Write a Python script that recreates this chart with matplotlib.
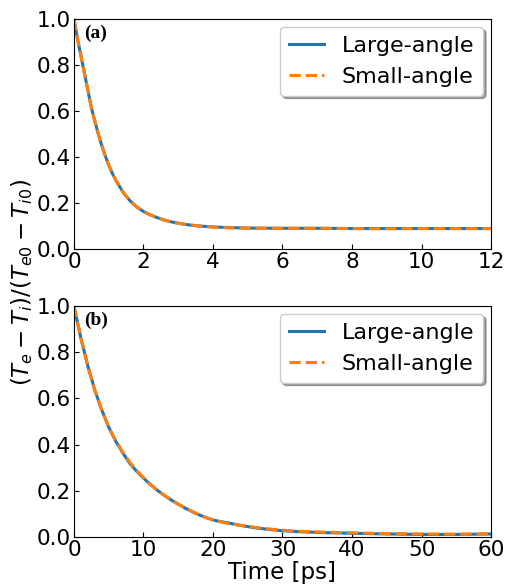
import matplotlib
matplotlib.use("Agg")
import matplotlib.pyplot as plt

# Panel (a)
t_a = [0, 0.1, 0.2, 0.3, 0.4, 0.5, 0.6, 0.7, 0.8, 0.9, 1.0, 1.1, 1.2, 1.3, 1.4, 1.5, 1.6, 1.7, 1.8, 1.9, 2.0,
       2.2, 2.4, 2.6, 2.8, 3.0, 3.3, 3.6, 4.0, 4.5, 5, 6, 7, 8, 9, 10, 11, 12]
large_a = [1.0, 0.915, 0.84, 0.765, 0.69, 0.615, 0.555, 0.50, 0.45, 0.405, 0.365, 0.33, 0.30, 0.275, 0.25, 0.23,
           0.212, 0.197, 0.184, 0.173, 0.163, 0.148, 0.136, 0.126, 0.118, 0.112, 0.105, 0.10, 0.096, 0.093, 0.091,
           0.09, 0.09, 0.089, 0.089, 0.089, 0.089, 0.089]
small_a = [1.0, 0.915, 0.84, 0.765, 0.69, 0.615, 0.555, 0.50, 0.45, 0.405, 0.365, 0.33, 0.30, 0.275, 0.25, 0.23,
           0.212, 0.197, 0.184, 0.173, 0.163, 0.148, 0.136, 0.126, 0.118, 0.112, 0.105, 0.10, 0.095, 0.092, 0.091,
           0.09, 0.09, 0.089, 0.088, 0.089, 0.089, 0.089]

# Panel (b)
t_b = [0, 1, 2, 3, 4, 5, 6, 7, 8, 9, 10, 11, 12, 13, 14, 15, 16, 17, 18, 19, 20, 21, 22, 23, 24, 25, 26, 28,
       30, 33, 36, 40, 45, 50, 55, 60]
large_b = [1.0, 0.86, 0.74, 0.635, 0.55, 0.475, 0.415, 0.365, 0.32, 0.285, 0.255, 0.227, 0.202, 0.18, 0.16,
           0.142, 0.125, 0.11, 0.096, 0.084, 0.074, 0.067, 0.062, 0.056, 0.05, 0.045, 0.04, 0.033,
           0.027, 0.022, 0.019, 0.016, 0.013, 0.011, 0.011, 0.013]
small_b = [1.0, 0.86, 0.74, 0.635, 0.55, 0.475, 0.417, 0.368, 0.325, 0.288, 0.257, 0.228, 0.202, 0.18, 0.16,
           0.142, 0.125, 0.11, 0.096, 0.084, 0.074, 0.066, 0.06, 0.055, 0.05, 0.046, 0.042, 0.035,
           0.029, 0.024, 0.021, 0.018, 0.015, 0.013, 0.012, 0.014]

xticks_a = [0, 2, 4, 6, 8, 10, 12]
xticks_b = [0, 10, 20, 30, 40, 50, 60]
yticks = [0.0, 0.2, 0.4, 0.6, 0.8, 1.0]

fig = plt.figure(figsize=(5.05, 5.87), dpi=100)
ax1 = fig.add_axes([0.1465, 0.5758, 0.8258, 0.3918])
ax2 = fig.add_axes([0.1465, 0.0852, 0.8258, 0.3935])

panels = [(ax1, t_a, large_a, small_a, xticks_a, 12, "(a)"),
          (ax2, t_b, large_b, small_b, xticks_b, 60, "(b)")]
for ax, t, lg, sm, xt, xmax, lab in panels:
    ax.plot(t, lg, color="tab:blue", lw=2.2, label="Large-angle")
    ax.plot(t, sm, color="tab:orange", lw=2.2, ls="--", label="Small-angle")
    ax.set_xlim(0, xmax)
    ax.set_ylim(0, 1.0)
    ax.set_xticks(xt)
    ax.set_yticks(yticks)
    ax.tick_params(direction="in", labelsize=15.5, pad=2)
    ax.legend(loc="upper right", fontsize=16, shadow=True, fancybox=True,
              handlelength=1.6, handletextpad=0.8, borderaxespad=0.35)
    ax.text(0.025, 0.975, lab, transform=ax.transAxes, ha="left", va="top",
            fontsize=14, fontweight="bold", family="Liberation Serif")

ax2.set_xlabel("Time [ps]", fontsize=16.5, labelpad=1)
fig.text(0.0446, 0.518, r"$(T_e - T_i)/(T_{e0} - T_{i0})$", rotation=90,
         ha="center", va="center", fontsize=16.5)

fig.savefig("out.png", dpi=100)
